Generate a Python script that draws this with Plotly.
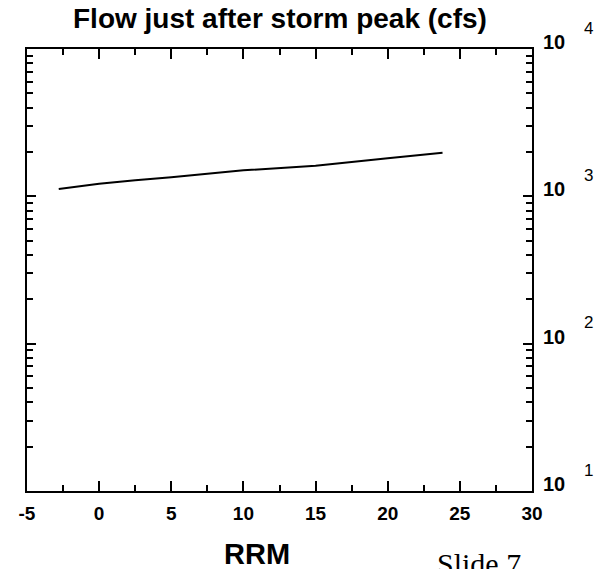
import math
import plotly.graph_objects as go

# Data
rrm = [-2.8, 0, 2.5, 5, 10, 15, 20, 23.8]
flow = [1121, 1218, 1284, 1346, 1501, 1614, 1811, 1977]

x_tickvals = [-5, 0, 5, 10, 15, 20, 25, 30]
x_ticktext = ["-5", "0", "5", "10", "15", "20", "25", "30"]
x_minor = [-2.5, 2.5, 7.5, 12.5, 17.5, 22.5, 27.5]
y_decades = [10, 100, 1000, 10000]
y_exponents = ["1", "2", "3", "4"]
y_minor = [m * d for d in [10, 100, 1000] for m in range(2, 10)]

title_text = "Flow just after storm peak (cfs)"
x_title = "RRM"
footer = "Slide 7"

fig = go.Figure()
fig.add_trace(go.Scatter(x=rrm, y=flow, mode="lines",
                         line=dict(color="black", width=2), showlegend=False))

fig.update_xaxes(range=[-5, 30], tickvals=x_tickvals, ticktext=x_ticktext,
                 ticks="inside", ticklen=10, tickwidth=2, tickcolor="black",
                 minor=dict(tickvals=x_minor, ticks="inside", ticklen=6,
                            tickwidth=2, tickcolor="black"),
                 showline=True, linecolor="black", linewidth=2, mirror="ticks",
                 showgrid=False, zeroline=False, ticklabelstandoff=4,
                 tickfont=dict(family="Liberation Sans", size=19, color="black", weight="bold"))
fig.update_yaxes(type="log", range=[1, 4], tickvals=y_decades,
                 showticklabels=False,
                 ticks="inside", ticklen=9, tickwidth=2, tickcolor="black",
                 minor=dict(tickvals=y_minor, ticks="inside", ticklen=6,
                            tickwidth=2, tickcolor="black"),
                 showline=True, linecolor="black", linewidth=2, mirror="ticks",
                 showgrid=False, zeroline=False)

for d, e in zip(y_decades, y_exponents):
    ly = math.log10(d)
    fig.add_annotation(x=1, xref="paper", y=ly, yref="y", text="<b>10</b>",
                       showarrow=False, xanchor="left", yanchor="middle",
                       xshift=9, yshift=7,
                       font=dict(family="Liberation Sans", size=20, color="black"))
    fig.add_annotation(x=1, xref="paper", y=ly, yref="y", text=e,
                       showarrow=False, xanchor="left", yanchor="middle",
                       xshift=50, yshift=21,
                       font=dict(family="Liberation Sans", size=17, color="black"))

fig.add_annotation(x=0.5, xref="paper", y=1, yref="paper", text="<b>" + title_text + "</b>",
                   showarrow=False, xanchor="center", yanchor="bottom", xshift=0, yshift=13,
                   font=dict(family="Liberation Sans", size=28, color="black"))
fig.add_annotation(x=0.5, xref="paper", y=0, yref="paper", text="<b>" + x_title + "</b>",
                   showarrow=False, xanchor="center", yanchor="top", xshift=-23, yshift=-45,
                   font=dict(family="Liberation Sans", size=29, color="black"))
fig.add_annotation(x=1, xref="paper", y=0, yref="paper", text=footer,
                   showarrow=False, xanchor="right", yanchor="top", xshift=-9, yshift=-54,
                   font=dict(family="Liberation Serif", size=30, color="black"))

fig.update_layout(width=611, height=569,
                  margin=dict(l=27, r=79, t=49, b=78),
                  paper_bgcolor="white", plot_bgcolor="white")

# remove the page's default 8px body margin so the figure fills the window
fig.write_html("out.html",
               config={"displayModeBar": False},
               post_script="document.body.style.margin='0';document.body.style.overflow='hidden';")
